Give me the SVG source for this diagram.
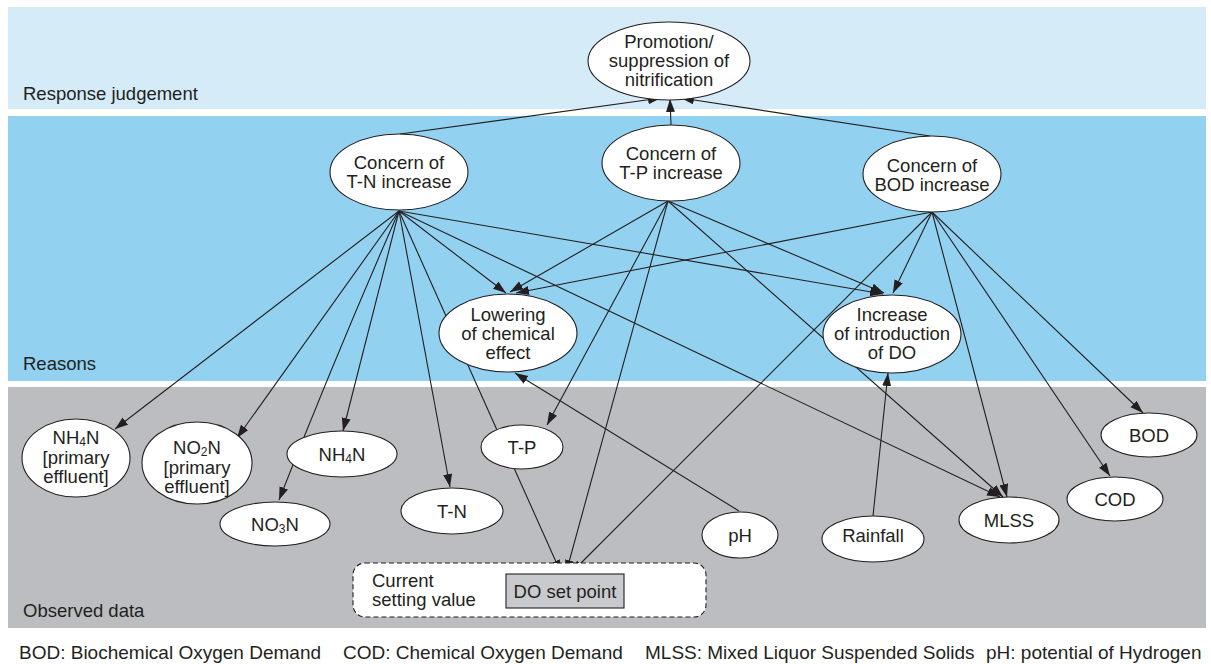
<svg xmlns="http://www.w3.org/2000/svg" width="1211" height="664" viewBox="0 0 1211 664">
<defs>
<style>
text{font-family:"Liberation Sans",Arial,sans-serif;font-size:18.5px;fill:#231f20}
.n ellipse{fill:#fff;stroke:#231f20;stroke-width:1.1}
.c line,.c path{stroke:#231f20;stroke-width:1.1;fill:none;marker-end:url(#ah)}
.lbl{text-anchor:start}
.t{text-anchor:middle}
.s{font-size:12px}
.f{font-size:19px}
</style>
<marker id="ah" markerUnits="userSpaceOnUse" markerWidth="14" markerHeight="10" refX="13" refY="4.5" orient="auto">
<path d="M0,0 L13,4.5 L0,9 z" fill="#231f20"/>
</marker>
</defs>
<rect x="0" y="0" width="1211" height="664" fill="#fff"/>
<rect x="8" y="7" width="1198" height="102" fill="#d5ecf8"/>
<rect x="8" y="116" width="1198" height="265" fill="#93d1f0"/>
<rect x="8" y="387" width="1198" height="241" fill="#bcbdc1"/>
<text class="lbl" x="23" y="100">Response judgement</text>
<text class="lbl" x="23" y="370">Reasons</text>
<text class="lbl" x="23" y="617">Observed data</text>

<g id="connectors" class="c">
<line x1="400" y1="134" x2="661" y2="98"/>
<line x1="671" y1="125" x2="670" y2="99"/>
<line x1="930" y1="136" x2="681" y2="98"/>
<line x1="399" y1="211" x2="115" y2="429"/>
<line x1="399" y1="211" x2="237" y2="438"/>
<path d="M399,211 Q338,350 279,500"/>
<line x1="399" y1="211" x2="343" y2="431"/>
<line x1="399" y1="211" x2="450" y2="487"/>
<line x1="399" y1="211" x2="506" y2="293"/>
<line x1="399" y1="211" x2="561" y2="573"/>
<line x1="399" y1="211" x2="883" y2="294"/>
<line x1="399" y1="211" x2="1000" y2="497"/>
<line x1="668" y1="201" x2="510" y2="292"/>
<line x1="668" y1="201" x2="547" y2="425"/>
<line x1="668" y1="201" x2="566" y2="573"/>
<line x1="668" y1="201" x2="884" y2="293"/>
<line x1="668" y1="201" x2="1003" y2="497"/>
<line x1="932" y1="212" x2="516" y2="293"/>
<line x1="932" y1="212" x2="893" y2="293"/>
<line x1="932" y1="212" x2="571" y2="573"/>
<line x1="932" y1="212" x2="1007" y2="497"/>
<line x1="932" y1="212" x2="1110" y2="476"/>
<line x1="932" y1="212" x2="1143" y2="413"/>
<line x1="739" y1="511" x2="515" y2="373"/>
<line x1="873" y1="516" x2="888" y2="373"/>
</g>

<g id="n-promotion" class="n">
<ellipse cx="669" cy="61" rx="81" ry="39"/>
<text class="t" x="669" y="48">Promotion/</text>
<text class="t" x="669" y="67">suppression of</text>
<text class="t" x="669" y="86">nitrification</text>
</g>
<g id="n-tn-concern" class="n">
<ellipse cx="399" cy="172" rx="69" ry="38"/>
<text class="t" x="399" y="169">Concern of</text>
<text class="t" x="399" y="188">T-N increase</text>
</g>
<g id="n-tp-concern" class="n">
<ellipse cx="671" cy="163" rx="69" ry="38"/>
<text class="t" x="671" y="160">Concern of</text>
<text class="t" x="671" y="179">T-P increase</text>
</g>
<g id="n-bod-concern" class="n">
<ellipse cx="932" cy="174" rx="69" ry="38"/>
<text class="t" x="932" y="172">Concern of</text>
<text class="t" x="932" y="191">BOD increase</text>
</g>
<g id="n-lowering" class="n">
<ellipse cx="508" cy="333" rx="69" ry="39"/>
<text class="t" x="508" y="321">Lowering</text>
<text class="t" x="508" y="340">of chemical</text>
<text class="t" x="508" y="359">effect</text>
</g>
<g id="n-increase-do" class="n">
<ellipse cx="892" cy="334" rx="69" ry="39"/>
<text class="t" x="892" y="321">Increase</text>
<text class="t" x="892" y="340">of introduction</text>
<text class="t" x="892" y="359">of DO</text>
</g>
<g id="n-nh4n-primary" class="n">
<ellipse cx="76" cy="458" rx="54" ry="39"/>
<text class="t" x="76" y="444">NH<tspan class="s" dy="1.5">4</tspan><tspan dy="-1.5">N</tspan></text>
<text class="t" x="76" y="464">[primary</text>
<text class="t" x="76" y="483">effluent]</text>
</g>
<g id="n-no2n-primary" class="n">
<ellipse cx="197" cy="463" rx="55" ry="41"/>
<text class="t" x="197" y="454">NO<tspan class="s" dy="1.5">2</tspan><tspan dy="-1.5">N</tspan></text>
<text class="t" x="197" y="474">[primary</text>
<text class="t" x="197" y="493">effluent]</text>
</g>
<g id="n-nh4n" class="n">
<ellipse cx="342" cy="454" rx="55" ry="23"/>
<text class="t" x="342" y="461">NH<tspan class="s" dy="1.5">4</tspan><tspan dy="-1.5">N</tspan></text>
</g>
<g id="n-no3n" class="n">
<ellipse cx="275" cy="524" rx="55" ry="22"/>
<text class="t" x="275" y="531">NO<tspan class="s" dy="1.5">3</tspan><tspan dy="-1.5">N</tspan></text>
</g>
<g id="n-tp" class="n">
<ellipse cx="522" cy="447" rx="41" ry="22"/>
<text class="t" x="522" y="454">T-P</text>
</g>
<g id="n-tn" class="n">
<ellipse cx="452" cy="511" rx="51" ry="23"/>
<text class="t" x="452" y="518">T-N</text>
</g>
<g id="n-ph" class="n">
<ellipse cx="740" cy="535" rx="38" ry="23"/>
<text class="t" x="740" y="542">pH</text>
</g>
<g id="n-rainfall" class="n">
<ellipse cx="873" cy="539" rx="51" ry="23"/>
<text class="t" x="873" y="542">Rainfall</text>
</g>
<g id="n-mlss" class="n">
<ellipse cx="1009" cy="520" rx="50" ry="23"/>
<text class="t" x="1009" y="527">MLSS</text>
</g>
<g id="n-cod" class="n">
<ellipse cx="1115" cy="499" rx="48" ry="22"/>
<text class="t" x="1115" y="506">COD</text>
</g>
<g id="n-bod" class="n">
<ellipse cx="1149" cy="435" rx="48" ry="22"/>
<text class="t" x="1149" y="442">BOD</text>
</g>
<g id="n-current-setting">
<rect x="353" y="563" width="353" height="54" rx="12" ry="12" fill="#fff" stroke="#231f20" stroke-width="1.1" stroke-dasharray="5,3"/>
<text class="lbl" x="372" y="587">Current</text>
<text class="lbl" x="372" y="606">setting value</text>
</g>
<g id="n-do-set-point">
<rect x="506" y="574" width="118" height="34" fill="#c9cacd" stroke="#231f20" stroke-width="1.1"/>
<text class="t" x="565" y="598">DO set point</text>
</g>

<text class="lbl f" x="19" y="659">BOD: Biochemical Oxygen Demand</text>
<text class="lbl f" x="343" y="659">COD: Chemical Oxygen Demand</text>
<text class="lbl f" x="645" y="659">MLSS: Mixed Liquor Suspended Solids</text>
<text class="lbl f" x="986" y="659">pH: potential of Hydrogen</text>
</svg>
